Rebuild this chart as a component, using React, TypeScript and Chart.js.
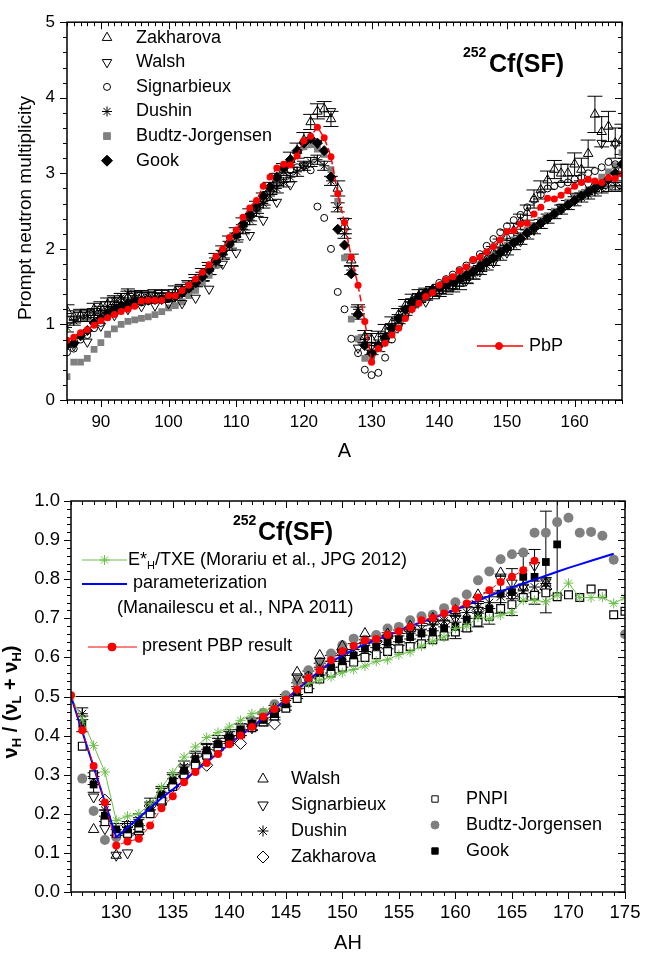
import React, { useEffect, useRef } from 'react';
import { Chart, registerables } from 'chart.js';
import { drawPoint } from 'chart.js/helpers';

Chart.register(...registerables);

const FONT = '"Liberation Sans", Arial, Helvetica, sans-serif';

// ================= TOP PANEL DATA (A, prompt neutron multiplicity) =================
const A_ALL = [85,86,87,88,89,90,91,92,93,94,95,96,97,98,99,100,101,102,103,104,105,106,107,108,109,110,111,112,113,114,115,116,117,118,119,120,121,122,123,124,125,126,127,128,129,130,131,132,133,134,135,136,137,138,139,140,141,142,143,144,145,146,147,148,149,150,151,152,153,154,155,156,157,158,159,160,161,162,163,164,165,166,167];
const A_EVEN = [86,88,90,92,94,96,98,100,102,104,106,108,110,112,114,116,118,120,122,124,126,128,130,132,134,136,138,140,142,144,146,148,150,152,154,156,158,160,162,164,166];

const PBP_TOP = [0.79,0.83,0.89,0.93,0.99, 1.05,1.09,1.13,1.17,1.20, 1.24,1.31,1.32,1.32,1.32, 1.38,1.38,1.45,1.52,1.60, 1.69,1.79,1.90,2.00,2.15, 2.25,2.42,2.54,2.64,2.83, 2.95,3.07,3.12,3.11,3.23, 3.43,3.49,3.61,3.47,3.22, 2.73,2.35,1.89,1.52,1.04, 0.50,0.68,0.75,0.86,0.95, 1.08,1.20,1.28,1.37,1.42, 1.52,1.59,1.63,1.71,1.76, 1.86,1.89,1.96,2.03,2.12, 2.23,2.24,2.33,2.34,2.46, 2.55,2.67,2.66,2.71,2.77, 2.83,2.88,2.92,2.90,2.88, 2.94,2.93,2.99];
const GOOK_TOP = [0.73,0.75,0.85,0.92,1.02, 1.08,1.15,1.20,1.25,1.28, 1.30,1.31,1.32,1.33,1.33, 1.35,1.37,1.42,1.48,1.55, 1.63,1.73,1.85,1.97,2.08, 2.20,2.33,2.46,2.58,2.70, 2.82,2.95,3.07,3.18,3.30, 3.40,3.46,3.40,3.30,2.95, 2.26,2.05,1.67,1.13,0.72, 0.62,0.72,0.83,0.95,1.08, 1.20,1.30,1.37,1.42,1.46, 1.49,1.52,1.56,1.60,1.65, 1.70,1.76,1.82,1.88,1.95, 2.01,2.08,2.14,2.21,2.28, 2.34,2.40,2.46,2.52,2.58, 2.64,2.70,2.75,2.80,2.85, 2.92,3.00,3.12];
const BUDTZ_TOP = [0.31,0.50,0.50,0.55,0.67, 0.76,0.87,0.94,1.00,1.04, 1.06,1.08,1.10,1.13,1.17, 1.22,1.25,1.30,1.38,1.45, 1.55,1.65,1.78,1.90,2.03, 2.15,2.28,2.42,2.55,2.68, 2.80,2.92,3.03,3.15,3.27, 3.35,3.38,3.32,3.25,3.05, 2.63,1.88,1.07,0.81,0.55, 0.55,0.68,0.80,0.93,1.05, 1.17,1.28,1.35,1.40,1.44, 1.48,1.52,1.57,1.62,1.67, 1.73,1.79,1.86,1.92,1.99, 2.05,2.12,2.18,2.25,2.31, 2.38,2.44,2.50,2.56,2.62, 2.68,2.73,2.78,2.84,2.95, 3.02,3.10,3.27];
const ZAK_TOP = [1.18,1.10,1.12,1.12,1.20, 1.22,1.27,1.30,1.33,1.36, 1.35,1.37,1.36,1.38,1.37, 1.38,1.43,1.45,1.50,1.58, 1.66,1.74,1.86,1.96,2.09, 2.20,2.33,2.45,2.55,2.66, 2.80,2.92,3.05,3.18,3.30, 3.44,3.68,3.82,3.85,3.72, 2.80,2.30,1.85,1.15,0.84, 0.80,0.83,0.92,1.02,1.13, 1.25,1.32,1.38,1.40,1.42, 1.45,1.48,1.51,1.54,1.62, 1.68,1.78,1.86,1.95,2.05, 2.15,2.24,2.36,2.48,2.66, 2.78,2.91,3.05,3.00,3.00, 3.12,3.05,3.26,3.78,3.55, 3.62,3.40,3.45];
const ZAK_TOP_ERR = [0.08,0.08,0.08,0.08,0.08, 0.08,0.08,0.08,0.08,0.08, 0.08,0.08,0.08,0.08,0.08, 0.08,0.08,0.08,0.08,0.08, 0.08,0.08,0.08,0.08,0.08, 0.08,0.08,0.08,0.08,0.08, 0.08,0.08,0.08,0.10,0.10, 0.10,0.10,0.10,0.10,0.10, 0.10,0.10,0.08,0.08,0.08, 0.08,0.08,0.08,0.08,0.08, 0.08,0.08,0.08,0.08,0.08, 0.08,0.08,0.08,0.08,0.08, 0.08,0.08,0.08,0.08,0.08, 0.10,0.10,0.10,0.10,0.12, 0.12,0.12,0.12,0.12,0.12, 0.15,0.15,0.18,0.24,0.20, 0.20,0.20,0.20];
const DUSHIN_TOP = [0.96,1.05,1.10,1.12,1.15, 1.18,1.24,1.30,1.35,1.41, 1.38,1.36,1.36,1.36,1.35, 1.36,1.40,1.44,1.50,1.56, 1.63,1.72,1.82,1.92,2.04, 2.15,2.26,2.38,2.49,2.60, 2.70,2.80,2.88,2.95,3.02, 3.10,3.15,3.18,3.10,2.90, 2.55,2.20,1.72,1.20,0.80, 0.66,0.70,0.82,0.95,1.07, 1.18,1.28,1.35,1.40,1.44, 1.47,1.50,1.53,1.57,1.61, 1.66,1.72,1.78,1.84,1.91, 1.98,2.05,2.12,2.19,2.26, 2.33,2.40,2.46,2.52,2.58, 2.63,2.68,2.72,2.76,2.80, 2.82,2.84,2.82];
const DUSHIN_TOP_ERR = 0.06;
const SIGN_TOP = [0.63,0.68,0.80,0.86,0.95, 1.02,1.10,1.16,1.20,1.24, 1.27,1.29,1.31,1.32,1.34, 1.36,1.38,1.42,1.48,1.55, 1.63,1.72,1.83,1.94,2.06, 2.18,2.30,2.42,2.54,2.65, 2.76,2.87,2.96,3.04,3.08, 3.10,3.04,2.56,2.41,2.00, 1.43,1.20,0.81,0.62,0.40, 0.33,0.36,0.56,0.80,0.98, 1.12,1.25,1.33,1.40,1.46, 1.55,1.60,1.66,1.72,1.78, 1.85,1.93,2.04,2.13,2.22, 2.30,2.38,2.45,2.55,2.65, 2.72,2.80,2.83,2.86,2.88, 2.92,2.95,3.00,3.03,3.08, 3.15,3.12,3.05];
const WALSH_TOP = [0.72,0.77,0.98,1.12,1.20, 1.24,1.25,1.28,1.28,1.35, 1.47,1.80,1.95,2.18,2.38, 2.62,2.85,3.10,3.40,3.82, 2.37,0.69,0.62,0.78,0.98, 1.22,1.30,1.42,1.50,1.58, 1.70,1.82,1.95,2.10,2.25, 2.40,2.55,2.70,2.85,3.40, 3.39];

const TOP_X_TICKS = [90,100,110,120,130,140,150,160];
const TOP_Y_TICKS = [0,1,2,3,4,5];

// ================= BOTTOM PANEL DATA (AH, nu_H/(nu_L+nu_H)) =================
const AH_PBP = [126,127,128,129,130,131,132,133,134,135,136,137,138,139,140,141,142,143,144,145,146,147,148,149,150,151,152,153,154,155,156,157,158,159,160,161,162,163,164,165,166,167];
const PBP_BOT = [0.503,0.414,0.322,0.229,0.119, 0.129,0.136,0.170,0.214,0.245, 0.281,0.307,0.330,0.353,0.378, 0.400,0.422,0.448,0.468,0.492, 0.518,0.547,0.567,0.593,0.616, 0.629,0.643,0.647,0.658,0.667, 0.678,0.695,0.701,0.712,0.724, 0.738,0.753,0.772,0.793,0.806, 0.823,0.847];

const AH_MOR = [126,127,128,129,130,131,132,133,134,135,136,137,138,139,140,141,142,143,144,145,146,147,148,149,150,151,152,153,154,155,156,157,158,159,160,161,162,163,164,165,166,167,168,169,170,171,172,173,174,175];
const MORARIU = [0.500,0.440,0.375,0.307,0.183, 0.194,0.200,0.225,0.268,0.305, 0.345,0.371,0.395,0.408,0.422, 0.439,0.456,0.462,0.472,0.495, 0.518,0.534,0.542,0.550,0.561, 0.569,0.578,0.590,0.594,0.607, 0.614,0.629,0.641,0.652,0.674, 0.680,0.703,0.699,0.708,0.716, 0.746,0.746,0.742,0.759,0.790, 0.753,0.753,0.754,0.738,0.753];

const AH_PAR = [126,127,128,129,130,131,132,133,134,135,136,137,138,139,140,141,142,143,144,145,146,147,148,149,150,151,152,153,154,155,156,157,158,159,160,161,162,163,164,165,166,167,168,169,170,171,172,173,174];
const PARAM = [0.500,0.410,0.320,0.230,0.140, 0.165,0.190,0.215,0.240,0.262, 0.285,0.310,0.332,0.355,0.378, 0.400,0.422,0.445,0.468,0.492, 0.517,0.542,0.565,0.588,0.605, 0.620,0.634,0.645,0.656,0.668, 0.680,0.690,0.700,0.711,0.722, 0.734,0.745,0.757,0.769,0.779, 0.789,0.799,0.809,0.819,0.829, 0.838,0.847,0.856,0.865];

const AH_127_175 = [127,128,129,130,131,132,133,134,135,136,137,138,139,140,141,142,143,144,145,146,147,148,149,150,151,152,153,154,155,156,157,158,159,160,161,162,163,164,165,166,167,168,169,170,171,172,173,174,175];
const BUDTZ_BOT = [0.290,0.207,0.133,0.140,0.145, 0.170,0.205,0.240,0.272,0.305, 0.330,0.355,0.378,0.398,0.418, 0.438,0.458,0.480,0.503,0.540, 0.567,0.588,0.610,0.631,0.648, 0.645,0.657,0.674,0.678,0.695, 0.705,0.709,0.726,0.741,0.761, 0.797,0.820,0.851,0.864,0.868, 0.919,0.919,0.946,0.957,0.919, 0.921,0.911,0.850,0.659];
const PNPI_BOT = [0.373,0.300,0.180,0.150,0.150, 0.165,0.200,0.235,0.270,0.300, 0.325,0.350,0.370,0.385,0.405, 0.420,0.435,0.450,0.470,0.495, 0.520,0.545,0.560,0.575,0.588, 0.600,0.607,0.615,0.622,0.628, 0.635,0.645,0.655,0.665,0.675, 0.690,0.705,0.725,0.735,0.753, 0.759,0.765,0.755,0.760,0.753, 0.775,0.763,0.709,0.718];

const AH_GOOK = [127,128,129,130,131,132,133,134,135,136,137,138,139,140,141,142,143,144,145,146,147,148,149,150,151,152,153,154,155,156,157,158,159,160,161,162,163,164,165,166,167,168,169];
const GOOK_BOT = [0.430,0.275,0.195,0.160,0.160, 0.175,0.215,0.250,0.285,0.310, 0.340,0.362,0.378,0.395,0.415, 0.430,0.440,0.455,0.480,0.510, 0.535,0.560,0.575,0.590,0.605, 0.622,0.628,0.637,0.646,0.652, 0.661,0.665,0.675,0.678,0.697, 0.708,0.725,0.763,0.767,0.806, 0.806,0.844,0.889];
const GOOK_BOT_ERR = [0.02,0.02,0.015,0.015,0.015, 0.015,0.015,0.015,0.015,0.015, 0.015,0.015,0.015,0.015,0.015, 0.015,0.015,0.015,0.015,0.015, 0.015,0.015,0.015,0.015,0.015, 0.015,0.015,0.015,0.015,0.015, 0.02,0.02,0.02,0.03,0.03, 0.03,0.04,0.05,0.06,0.06, 0.07,0.13,0.13];

const AH_DUSHIN = [127,128,129,130,131,132,133,134,135,136,137,138,139,140,141,142,143,144,145,146,147,148,149,150,151,152,153,154,155,156,157,158,159,160,161,162,163,164,165,166,167,168];
const DUSHIN_BOT = [0.456,0.290,0.209,0.160,0.165, 0.185,0.225,0.255,0.290,0.320, 0.345,0.365,0.385,0.400,0.415, 0.428,0.445,0.462,0.490,0.520, 0.550,0.570,0.590,0.605,0.620, 0.630,0.640,0.648,0.655,0.662, 0.672,0.683,0.693,0.705,0.715, 0.728,0.740,0.755,0.765,0.770, 0.780,0.789];
const DUSHIN_BOT_ERR = 0.015;

const AH_WALSH = [128,130,132,134,136,138,140,142,144,146,148,150,152,154,156,158,160,162,164,166,168];
const WALSH_BOT = [0.160,0.094,0.155,0.230,0.300,0.360,0.400,0.430,0.470,0.562,0.605,0.629,0.661,0.660,0.680,0.700,0.720,0.760,0.816,0.780,0.790];

const AH_SIGN = [128,129,130,131,132,134,136,138,140,142,144,146,148,150,152,154,156,158,160,162,164,165,166,167,168];
const SIGN_BOT = [0.243,0.162,0.094,0.100,0.145,0.220,0.290,0.340,0.390,0.420,0.460,0.550,0.590,0.610,0.630,0.650,0.670,0.690,0.700,0.720,0.800,0.790,0.780,0.835,0.793];

const AH_ZAK = [129,131,133,135,138,141,144,147,150,153,156,159,162,165,168];
const ZAK_BOT = [0.235,0.170,0.220,0.270,0.324,0.380,0.430,0.550,0.610,0.640,0.670,0.690,0.720,0.760,0.775];

const HLINE_X = [126, 175];
const HLINE_Y = [0.5, 0.5];

const BOT_X_TICKS = [130,135,140,145,150,155,160,165,170,175];
const BOT_Y_TICKS = [0,0.1,0.2,0.3,0.4,0.5,0.6,0.7,0.8,0.9,1.0];

// ================= helpers =================
const pts = (xs: number[], ys: number[]) => xs.map((x, i) => ({ x, y: ys[i] }));
const GREEN = '#6cbf4a';
const GRAY = '#808080';
const CLEAR = 'rgba(255,255,255,0)';

type Part = { t: string; sub?: boolean };
function richWidth(ctx: CanvasRenderingContext2D, parts: Part[], size: number, subSize: number, bold: boolean) {
  let w = 0;
  for (const p of parts) {
    ctx.font = `${bold ? 'bold ' : ''}${p.sub ? subSize : size}px ${FONT}`;
    w += ctx.measureText(p.t).width;
  }
  return w;
}
function drawRich(ctx: CanvasRenderingContext2D, parts: Part[], x: number, y: number, size: number, subSize: number, bold: boolean, subShift: number) {
  let cx = x;
  ctx.textBaseline = 'middle';
  ctx.textAlign = 'left';
  for (const p of parts) {
    ctx.font = `${bold ? 'bold ' : ''}${p.sub ? subSize : size}px ${FONT}`;
    ctx.fillText(p.t, cx, p.sub ? y + subShift : y);
    cx += ctx.measureText(p.t).width;
  }
}

function marker(ctx: CanvasRenderingContext2D, style: any, x: number, y: number, r: number, fill: string, stroke: string, rot = 0, bw = 1) {
  ctx.save();
  ctx.fillStyle = fill;
  ctx.strokeStyle = stroke;
  ctx.lineWidth = bw;
  drawPoint(ctx, { pointStyle: style, rotation: rot, radius: r, borderWidth: bw } as any, x, y);
  ctx.restore();
}

const errorBarPlugin = {
  id: 'errbars',
  beforeDatasetsDraw(chart: any) {
    const { ctx, chartArea: a } = chart;
    const ys = chart.scales.y;
    ctx.save();
    ctx.beginPath();
    ctx.rect(a.left, a.top, a.right - a.left, a.bottom - a.top);
    ctx.clip();
    chart.data.datasets.forEach((ds: any, i: number) => {
      if (ds.errors === undefined) return;
      const meta = chart.getDatasetMeta(i);
      const cap = ds.errCap || 6;
      ctx.strokeStyle = '#000';
      ctx.lineWidth = 1;
      ctx.beginPath();
      meta.data.forEach((el: any, j: number) => {
        const e = Array.isArray(ds.errors) ? ds.errors[j] : ds.errors;
        const v = ds.data[j].y;
        const y1 = ys.getPixelForValue(v - e);
        const y2 = ys.getPixelForValue(v + e);
        const x = el.x;
        ctx.moveTo(x, y1); ctx.lineTo(x, y2);
        ctx.moveTo(x - cap, y1); ctx.lineTo(x + cap, y1);
        ctx.moveTo(x - cap, y2); ctx.lineTo(x + cap, y2);
      });
      ctx.stroke();
    });
    ctx.restore();
  },
};

function framePlugin(cfg: { xMinor: number; xMajor: number; yMinor: number; yMajor: number; major: number; minor: number }) {
  return {
    id: 'frame',
    afterDraw(chart: any) {
      const { ctx, chartArea: a, scales } = chart;
      const xs = scales.x, ys = scales.y;
      ctx.save();
      ctx.strokeStyle = '#000';
      ctx.lineWidth = 1.5;
      ctx.strokeRect(a.left, a.top, a.right - a.left, a.bottom - a.top);
      ctx.lineWidth = 1;
      ctx.beginPath();
      const isMaj = (v: number, m: number) => Math.abs(v / m - Math.round(v / m)) < 1e-6;
      for (let k = Math.ceil(xs.min / cfg.xMinor - 1e-9); k <= Math.floor(xs.max / cfg.xMinor + 1e-9); k++) {
        const v = k * cfg.xMinor;
        const L = isMaj(v, cfg.xMajor) ? cfg.major : cfg.minor;
        const px = Math.round(xs.getPixelForValue(v)) + 0.5;
        ctx.moveTo(px, a.bottom); ctx.lineTo(px, a.bottom + L);
        ctx.moveTo(px, a.top); ctx.lineTo(px, a.top + L);
      }
      for (let k = Math.ceil(ys.min / cfg.yMinor - 1e-9); k <= Math.floor(ys.max / cfg.yMinor + 1e-9); k++) {
        const v = k * cfg.yMinor;
        const L = isMaj(v, cfg.yMajor) ? cfg.major : cfg.minor;
        const py = Math.round(ys.getPixelForValue(v)) + 0.5;
        ctx.moveTo(a.left, py); ctx.lineTo(a.left - L, py);
        ctx.moveTo(a.right, py); ctx.lineTo(a.right - L, py);
      }
      ctx.stroke();
      ctx.restore();
    },
  };
}

// ================= TOP CHART =================
function topConfig(): any {
  const deco = {
    id: 'decoTop',
    afterDraw(chart: any) {
      const { ctx, chartArea: a } = chart;
      ctx.save();
      ctx.fillStyle = '#000';
      // axis titles
      ctx.font = `20px ${FONT}`;
      ctx.textAlign = 'center';
      ctx.textBaseline = 'middle';
      ctx.fillText('A', (a.left + a.right) / 2, 451);
      ctx.save();
      ctx.translate(26, 208);
      ctx.rotate(-Math.PI / 2);
      ctx.font = `19px ${FONT}`;
      ctx.fillText('Prompt neutron multiplicity', 0, 0);
      ctx.restore();
      // title
      ctx.textAlign = 'left';
      ctx.textBaseline = 'alphabetic';
      ctx.font = `bold 14px ${FONT}`;
      ctx.fillText('252', 463, 57);
      ctx.font = `bold 25px ${FONT}`;
      ctx.fillText('Cf(SF)', 489, 72);
      // legend
      const items = [
        { t: 'Zakharova', s: 'triangle', rot: 0, r: 5.5, f: CLEAR, c: '#000' },
        { t: 'Walsh', s: 'triangle', rot: 180, r: 5.5, f: CLEAR, c: '#000' },
        { t: 'Signarbieux', s: 'circle', rot: 0, r: 3.5, f: CLEAR, c: '#000' },
        { t: 'Dushin', s: 'star', rot: 0, r: 5, f: CLEAR, c: '#000' },
        { t: 'Budtz-Jorgensen', s: 'rect', rot: 0, r: 4.8, f: GRAY, c: GRAY },
        { t: 'Gook', s: 'rectRot', rot: 0, r: 5.5, f: '#000', c: '#000' },
      ];
      items.forEach((it, i) => {
        const y = 37.7 + i * 24.6;
        marker(ctx, it.s, 107, y, it.r, it.f, it.c, it.rot);
        ctx.fillStyle = '#000';
        ctx.font = `18px ${FONT}`;
        ctx.textAlign = 'left';
        ctx.textBaseline = 'middle';
        ctx.fillText(it.t, 136, y);
      });
      // PbP legend
      ctx.strokeStyle = '#ff0000';
      ctx.lineWidth = 1.5;
      ctx.beginPath();
      ctx.moveTo(477, 346); ctx.lineTo(523, 346);
      ctx.stroke();
      marker(ctx, 'circle', 499, 346, 3.5, '#ff0000', '#ff0000');
      ctx.fillStyle = '#000';
      ctx.font = `18px ${FONT}`;
      ctx.textBaseline = 'middle';
      ctx.fillText('PbP', 529, 346);
      ctx.restore();
    },
  };
  return {
    type: 'scatter',
    data: {
      datasets: [
        { label: 'PbP', data: pts(A_ALL, PBP_TOP), showLine: true, borderColor: '#ff0000', borderWidth: 1.5, borderDash: [7, 3], backgroundColor: '#ff0000', pointBorderColor: '#ff0000', pointStyle: 'circle', pointRadius: 3.5, pointBorderWidth: 0, order: 0 },
        { label: 'Gook', data: pts(A_ALL, GOOK_TOP), showLine: false, pointStyle: 'rectRot', pointRadius: 5, backgroundColor: '#000', borderColor: '#000', pointBorderWidth: 1, order: 1 },
        { label: 'Dushin', data: pts(A_ALL, DUSHIN_TOP), showLine: false, pointStyle: 'star', pointRadius: 5, backgroundColor: CLEAR, borderColor: '#000', pointBorderWidth: 1, errors: DUSHIN_TOP_ERR, errCap: 7, order: 2 },
        { label: 'Signarbieux', data: pts(A_ALL, SIGN_TOP), showLine: false, pointStyle: 'circle', pointRadius: 3.5, backgroundColor: CLEAR, borderColor: '#000', pointBorderWidth: 1, order: 3 },
        { label: 'Walsh', data: pts(A_EVEN, WALSH_TOP), showLine: false, pointStyle: 'triangle', pointRotation: 180, pointRadius: 5.5, backgroundColor: CLEAR, borderColor: '#000', pointBorderWidth: 1, order: 4 },
        { label: 'Zakharova', data: pts(A_ALL, ZAK_TOP), showLine: false, pointStyle: 'triangle', pointRadius: 5.5, backgroundColor: CLEAR, borderColor: '#000', pointBorderWidth: 1, errors: ZAK_TOP_ERR, errCap: 7.5, order: 5 },
        { label: 'Budtz-Jorgensen', data: pts(A_ALL, BUDTZ_TOP), showLine: false, pointStyle: 'rect', pointRadius: 4.8, backgroundColor: GRAY, borderColor: GRAY, pointBorderWidth: 0, order: 6 },
      ],
    },
    options: {
      animation: false,
      responsive: false,
      maintainAspectRatio: false,
      layout: { padding: { left: 0, right: 38, top: 10, bottom: 0 } },
      plugins: { legend: { display: false }, tooltip: { enabled: false } },
      scales: {
        x: {
          type: 'linear', min: 85, max: 167,
          afterFit: (s: any) => { s.height = 70; },
          afterBuildTicks: (s: any) => { s.ticks = TOP_X_TICKS.map((v) => ({ value: v })); },
          ticks: { color: '#000', font: { family: FONT, size: 17 }, padding: 12, maxRotation: 0, autoSkip: false },
          grid: { display: false, drawTicks: false },
          border: { display: false },
        },
        y: {
          type: 'linear', min: 0, max: 5,
          afterFit: (s: any) => { s.width = 67; },
          afterBuildTicks: (s: any) => { s.ticks = TOP_Y_TICKS.map((v) => ({ value: v })); },
          ticks: { color: '#000', font: { family: FONT, size: 17 }, padding: 12, autoSkip: false },
          grid: { display: false, drawTicks: false },
          border: { display: false },
        },
      },
    },
    plugins: [errorBarPlugin, framePlugin({ xMinor: 1, xMajor: 10, yMinor: 0.2, yMajor: 1, major: 7, minor: 4 }), deco],
  };
}

// ================= BOTTOM CHART =================
function botConfig(): any {
  const deco = {
    id: 'decoBot',
    afterDraw(chart: any) {
      const { ctx, chartArea: a } = chart;
      ctx.save();
      ctx.fillStyle = '#000';
      ctx.font = `20px ${FONT}`;
      ctx.textAlign = 'center';
      ctx.textBaseline = 'middle';
      ctx.fillText('AH', (a.left + a.right) / 2, 473);
      // y title with subscripts
      const yParts: Part[] = [
        { t: 'ν' }, { t: 'H', sub: true }, { t: ' / (' }, { t: 'ν' }, { t: 'L', sub: true }, { t: ' + ' }, { t: 'ν' }, { t: 'H', sub: true }, { t: ')' },
      ];
      ctx.save();
      ctx.translate(11, 232);
      ctx.rotate(-Math.PI / 2);
      const w = richWidth(ctx, yParts, 20, 13, true);
      drawRich(ctx, yParts, -w / 2, 0, 20, 13, true, 6);
      ctx.restore();
      // title
      ctx.textAlign = 'left';
      ctx.textBaseline = 'alphabetic';
      ctx.font = `bold 14px ${FONT}`;
      ctx.fillText('252', 233, 55);
      ctx.font = `bold 25px ${FONT}`;
      ctx.fillText('Cf(SF)', 258, 70);
      // upper legend
      ctx.lineWidth = 1;
      ctx.strokeStyle = GREEN;
      ctx.beginPath(); ctx.moveTo(82, 90); ctx.lineTo(127, 90); ctx.stroke();
      marker(ctx, 'star', 104.5, 90, 5, CLEAR, GREEN);
      ctx.fillStyle = '#000';
      drawRich(ctx, [{ t: 'E*' }, { t: 'H', sub: true }, { t: '/TXE (Morariu et al., JPG 2012)' }], 128, 90, 18, 11, false, 6);
      ctx.strokeStyle = '#0000ff';
      ctx.lineWidth = 2;
      ctx.beginPath(); ctx.moveTo(82, 114); ctx.lineTo(127, 114); ctx.stroke();
      ctx.fillStyle = '#000';
      ctx.font = `18px ${FONT}`;
      ctx.textAlign = 'left';
      ctx.textBaseline = 'middle';
      ctx.fillText('parameterization', 133, 113);
      ctx.fillText('(Manailescu et al., NPA 2011)', 117, 138);
      ctx.strokeStyle = '#ff0000';
      ctx.lineWidth = 1;
      ctx.beginPath(); ctx.moveTo(88, 177); ctx.lineTo(137, 177); ctx.stroke();
      marker(ctx, 'circle', 112, 177, 4, '#ff0000', '#ff0000');
      ctx.fillStyle = '#000';
      ctx.font = `18px ${FONT}`;
      ctx.fillText('present PBP result', 142, 176);
      // lower legends
      const left = [
        { t: 'Walsh', s: 'triangle', rot: 0, r: 6, f: CLEAR, c: '#000' },
        { t: 'Signarbieux', s: 'triangle', rot: 180, r: 6, f: CLEAR, c: '#000' },
        { t: 'Dushin', s: 'star', rot: 0, r: 5.5, f: CLEAR, c: '#000' },
        { t: 'Zakharova', s: 'rectRot', rot: 0, r: 6, f: CLEAR, c: '#000' },
      ];
      left.forEach((it, i) => {
        const y = 309 + i * 26;
        marker(ctx, it.s, 263, y, it.r, it.f, it.c, it.rot);
        ctx.fillStyle = '#000';
        ctx.font = `18px ${FONT}`;
        ctx.textAlign = 'left';
        ctx.textBaseline = 'middle';
        ctx.fillText(it.t, 291, y);
      });
      const right = [
        { t: 'PNPI', s: 'rect', r: 4.5, f: '#fff', c: '#000' },
        { t: 'Budtz-Jorgensen', s: 'circle', r: 4, f: GRAY, c: GRAY },
        { t: 'Gook', s: 'rect', r: 4.5, f: '#000', c: '#000' },
      ];
      right.forEach((it, i) => {
        const y = 329 + i * 26;
        marker(ctx, it.s, 435, y, it.r, it.f, it.c, 0);
        ctx.fillStyle = '#000';
        ctx.font = `18px ${FONT}`;
        ctx.textAlign = 'left';
        ctx.textBaseline = 'middle';
        ctx.fillText(it.t, 466, y);
      });
      ctx.restore();
    },
  };
  return {
    type: 'scatter',
    data: {
      datasets: [
        { label: 'PBP', data: pts(AH_PBP, PBP_BOT), showLine: true, borderColor: '#ff0000', borderWidth: 1, borderDash: [6, 3], backgroundColor: '#ff0000', pointStyle: 'circle', pointRadius: 4, pointBorderWidth: 0, order: 0 },
        { label: 'param', data: pts(AH_PAR, PARAM), showLine: true, borderColor: '#0000ff', borderWidth: 2, pointRadius: 0, order: 1 },
        { label: 'Morariu', data: pts(AH_MOR, MORARIU), showLine: true, borderColor: GREEN, borderWidth: 1, backgroundColor: CLEAR, pointStyle: 'star', pointRadius: 5, pointBorderColor: GREEN, pointBorderWidth: 1, order: 2 },
        { label: 'Gook', data: pts(AH_GOOK, GOOK_BOT), showLine: false, pointStyle: 'rect', pointRadius: 5.5, backgroundColor: '#000', borderColor: '#000', pointBorderWidth: 0, errors: GOOK_BOT_ERR, errCap: 6, order: 3 },
        { label: 'PNPI', data: pts(AH_127_175, PNPI_BOT), showLine: false, pointStyle: 'rect', pointRadius: 5.5, backgroundColor: '#fff', borderColor: '#000', pointBorderWidth: 1.2, order: 4 },
        { label: 'Dushin', data: pts(AH_DUSHIN, DUSHIN_BOT), showLine: false, pointStyle: 'star', pointRadius: 5.5, backgroundColor: CLEAR, borderColor: '#000', pointBorderWidth: 1, errors: DUSHIN_BOT_ERR, errCap: 6, order: 5 },
        { label: 'Walsh', data: pts(AH_WALSH, WALSH_BOT), showLine: false, pointStyle: 'triangle', pointRadius: 6, backgroundColor: CLEAR, borderColor: '#000', pointBorderWidth: 1, order: 6 },
        { label: 'Signarbieux', data: pts(AH_SIGN, SIGN_BOT), showLine: false, pointStyle: 'triangle', pointRotation: 180, pointRadius: 6, backgroundColor: CLEAR, borderColor: '#000', pointBorderWidth: 1, order: 7 },
        { label: 'Zakharova', data: pts(AH_ZAK, ZAK_BOT), showLine: false, pointStyle: 'rectRot', pointRadius: 6, backgroundColor: CLEAR, borderColor: '#000', pointBorderWidth: 1, order: 8 },
        { label: 'Budtz-Jorgensen', data: pts(AH_127_175, BUDTZ_BOT), showLine: false, pointStyle: 'circle', pointRadius: 5, backgroundColor: GRAY, borderColor: GRAY, pointBorderWidth: 0, order: 9 },
        { label: 'half', data: pts(HLINE_X, HLINE_Y), showLine: true, borderColor: '#000', borderWidth: 1, pointRadius: 0, order: 10 },
      ],
    },
    options: {
      animation: false,
      responsive: false,
      maintainAspectRatio: false,
      layout: { padding: { left: 0, right: 35, top: 31, bottom: 0 } },
      plugins: { legend: { display: false }, tooltip: { enabled: false } },
      scales: {
        x: {
          type: 'linear', min: 126, max: 175,
          afterFit: (s: any) => { s.height = 66; },
          afterBuildTicks: (s: any) => { s.ticks = BOT_X_TICKS.map((v) => ({ value: v })); },
          ticks: { color: '#000', font: { family: FONT, size: 18.5 }, padding: 10, maxRotation: 0, autoSkip: false },
          grid: { display: false, drawTicks: false },
          border: { display: false },
        },
        y: {
          type: 'linear', min: 0, max: 1,
          afterFit: (s: any) => { s.width = 71; },
          afterBuildTicks: (s: any) => { s.ticks = BOT_Y_TICKS.map((v) => ({ value: v })); },
          ticks: { color: '#000', font: { family: FONT, size: 18.5 }, padding: 11, autoSkip: false, callback: (v: any) => Number(v).toFixed(1) },
          grid: { display: false, drawTicks: false },
          border: { display: false },
        },
      },
    },
    plugins: [errorBarPlugin, framePlugin({ xMinor: 1, xMajor: 5, yMinor: 0.02, yMajor: 0.1, major: 7, minor: 4 }), deco],
  };
}

export default function App() {
  const topRef = useRef<HTMLCanvasElement>(null);
  const botRef = useRef<HTMLCanvasElement>(null);
  useEffect(() => {
    const c1 = new Chart(topRef.current as HTMLCanvasElement, topConfig());
    const c2 = new Chart(botRef.current as HTMLCanvasElement, botConfig());
    return () => {
      c1.destroy();
      c2.destroy();
    };
  }, []);
  return (
    <div style={{ position: 'absolute', left: 0, top: 0, width: 660, height: 958, background: '#fff' }}>
      <canvas ref={topRef} width={660} height={470} style={{ position: 'absolute', left: 0, top: 0, width: 660, height: 470 }} />
      <canvas ref={botRef} width={660} height={488} style={{ position: 'absolute', left: 0, top: 470, width: 660, height: 488 }} />
    </div>
  );
}
